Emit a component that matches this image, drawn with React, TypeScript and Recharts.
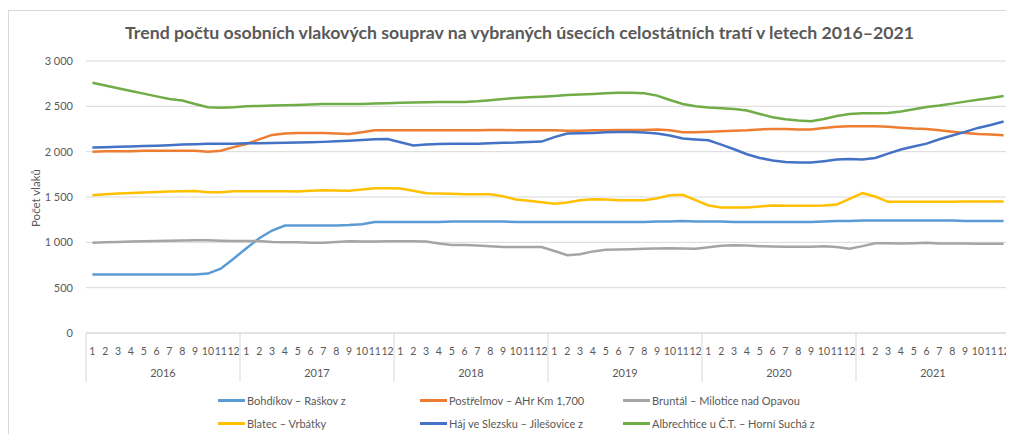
import { LineChart, Line, XAxis, YAxis, CartesianGrid } from 'recharts'

const years = ['2016', '2017', '2018', '2019', '2020', '2021']
const months = ['1', '2', '3', '4', '5', '6', '7', '8', '9', '10', '11', '12']
const yTicks = [0, 500, 1000, 1500, 2000, 2500, 3000]

const bohdikov = [
  645, 645, 645, 645, 645, 645, 645, 645, 645, 655, 710, 820,
  935, 1045, 1130, 1185, 1185, 1185, 1185, 1185, 1190, 1200, 1225, 1225,
  1225, 1225, 1225, 1225, 1230, 1230, 1230, 1230, 1230, 1225, 1225, 1225,
  1225, 1225, 1225, 1225, 1225, 1225, 1225, 1225, 1230, 1230, 1235, 1230,
  1230, 1230, 1225, 1225, 1225, 1225, 1225, 1225, 1225, 1230, 1235, 1235,
  1240, 1240, 1240, 1240, 1240, 1240, 1240, 1240, 1235, 1235, 1235, 1235,
]
const postrelmov = [
  2000, 2005, 2005, 2005, 2010, 2010, 2010, 2010, 2010, 2000, 2010, 2050,
  2085, 2135, 2185, 2200, 2205, 2205, 2205, 2200, 2195, 2215, 2235, 2235,
  2235, 2235, 2235, 2235, 2235, 2235, 2235, 2240, 2240, 2235, 2235, 2235,
  2235, 2230, 2230, 2235, 2235, 2240, 2240, 2240, 2245, 2235, 2215, 2215,
  2220, 2225, 2230, 2235, 2245, 2250, 2250, 2245, 2245, 2260, 2275, 2280,
  2280, 2280, 2275, 2265, 2255, 2250, 2235, 2220, 2205, 2195, 2190, 2180,
]
const bruntal = [
  995, 1000, 1005, 1008, 1012, 1015, 1018, 1020, 1022, 1022, 1018, 1015,
  1015, 1015, 1005, 1000, 1000, 995, 995, 1005, 1012, 1010, 1010, 1012,
  1012, 1012, 1008, 988, 970, 970, 966, 958, 948, 948, 948, 948,
  905, 858, 868, 900, 918, 922, 925, 928, 932, 935, 933, 930,
  945, 962, 968, 966, 958, 955, 952, 952, 952, 958, 948, 930,
  958, 990, 990, 988, 990, 995, 988, 988, 988, 985, 985, 985,
]
const blatec = [
  1520, 1530, 1538, 1545, 1550, 1555, 1560, 1563, 1567, 1553, 1553, 1563,
  1563, 1563, 1563, 1563, 1560, 1570, 1575, 1572, 1568, 1583, 1597, 1597,
  1594, 1568, 1542, 1538, 1535, 1531, 1531, 1531, 1509, 1472, 1458, 1443,
  1425, 1440, 1465, 1476, 1472, 1465, 1465, 1465, 1487, 1520, 1524, 1465,
  1406, 1385, 1385, 1385, 1395, 1405, 1403, 1403, 1403, 1406, 1417, 1480,
  1542, 1505, 1447, 1447, 1447, 1447, 1447, 1447, 1450, 1450, 1450, 1450,
]
const haj = [
  2045, 2050, 2055, 2058, 2062, 2066, 2072, 2078, 2083, 2086, 2086, 2088,
  2092, 2094, 2095, 2097, 2100, 2104, 2108, 2114, 2120, 2128, 2136, 2140,
  2104, 2068, 2078, 2085, 2087, 2087, 2088, 2093, 2097, 2100, 2107, 2111,
  2160, 2200, 2203, 2207, 2213, 2218, 2218, 2211, 2200, 2178, 2145, 2134,
  2126, 2078, 2027, 1972, 1931, 1902, 1887, 1880, 1880, 1895, 1913, 1918,
  1913, 1931, 1979, 2023, 2056, 2089, 2137, 2178, 2218, 2262, 2295, 2332,
]
const albrechtice = [
  2760, 2730, 2700, 2670, 2640, 2610, 2580, 2565, 2525, 2490, 2485, 2490,
  2500, 2505, 2508, 2512, 2515, 2520, 2525, 2525, 2525, 2525, 2530, 2535,
  2540, 2542, 2545, 2547, 2548, 2548, 2555, 2568, 2582, 2592, 2600, 2607,
  2614, 2624, 2630, 2636, 2645, 2650, 2650, 2643, 2618, 2570, 2526, 2500,
  2486, 2478, 2470, 2453, 2416, 2380, 2357, 2343, 2335, 2361, 2394, 2416,
  2423, 2423, 2427, 2442, 2468, 2493, 2508, 2530, 2552, 2572, 2592, 2614,
]

const series = [
  { key: 'bohdikov', name: 'Bohdíkov – Raškov z', color: '#5B9BD5', values: bohdikov },
  { key: 'postrelmov', name: 'Postřelmov – AHr Km 1,700', color: '#ED7D31', values: postrelmov },
  { key: 'bruntal', name: 'Bruntál – Milotice nad Opavou', color: '#A5A5A5', values: bruntal },
  { key: 'blatec', name: 'Blatec – Vrbátky', color: '#FFC000', values: blatec },
  { key: 'haj', name: 'Háj ve Slezsku – Jilešovice z', color: '#4472C4', values: haj },
  { key: 'albrechtice', name: 'Albrechtice u Č.T. – Horní Suchá z', color: '#70AD47', values: albrechtice },
]

const data = years.flatMap((y, yi) =>
  months.map((m, mi) => {
    const row: any = { key: `${y}-${m}` }
    series.forEach((s) => {
      row[s.key] = s.values[yi * 12 + mi]
    })
    return row
  })
)

const FONT = 'Lato, "Open Sans", sans-serif'
const TEXT = '#595959'
const GRID = '#d9d9d9'
const PLOT_W = 924
const HALF = PLOT_W / data.length / 2

const fmt = (v: number) => (v >= 1000 ? `${Math.floor(v / 1000)} ${String(v % 1000).padStart(3, '0')}` : String(v))

const MonthTick = (props: any) => {
  const { x, y, payload, index } = props
  const [year, month] = String(payload.value).split('-')
  return (
    <g>
      <text x={x} y={y + 22} textAnchor="middle" fontSize={10.5} fill={TEXT} fontFamily={FONT}>
        {month}
      </text>
      {month === '1' && <line x1={x - HALF} x2={x - HALF} y1={y} y2={y + 49} stroke={GRID} />}
      {index === data.length - 1 && <line x1={x + HALF} x2={x + HALF} y1={y} y2={y + 49} stroke={GRID} />}
      {month === '6' && (
        <text x={x + HALF} y={y + 44} textAnchor="middle" fontSize={11} fill={TEXT} fontFamily={FONT}>
          {year}
        </text>
      )}
    </g>
  )
}

export default function App() {
  return (
    <div style={{ position: 'relative', width: 1006, height: 426, fontFamily: FONT }}>
      <div style={{ position: 'absolute', left: 0, top: 2, width: 1020, height: 440, border: `1px solid ${GRID}`, boxSizing: 'border-box' }} />
      <div
        style={{ position: 'absolute', left: 0, width: 1023, top: 14, textAlign: 'center', fontSize: 17.7, lineHeight: '21px', fontWeight: 700, color: TEXT, whiteSpace: 'nowrap' }}
      >
        Trend počtu osobních vlakových souprav na vybraných úsecích celostátních tratí v letech 2016–2021
      </div>
      <div
        style={{ position: 'absolute', left: 27, top: 190, transform: 'translate(-50%, -50%) rotate(-90deg)', fontSize: 11.5, color: TEXT, whiteSpace: 'nowrap' }}
      >
        Počet vlaků
      </div>
      <div style={{ position: 'absolute', left: 0, top: 0 }}>
        <LineChart width={1006} height={426} data={data} margin={{ top: 53, right: 4, bottom: 51, left: 18 }}>
          <CartesianGrid vertical={false} stroke={GRID} />
          <XAxis
            dataKey="key"
            interval={0}
            height={50}
            padding={{ left: HALF, right: HALF }}
            axisLine={{ stroke: GRID }}
            tickLine={false}
            tickSize={0}
            tickMargin={0}
            tick={<MonthTick />}
          />
          <YAxis
            width={60}
            domain={[0, 3000]}
            ticks={yTicks}
            axisLine={false}
            tickLine={false}
            tickSize={0}
            tickMargin={13}
            tickFormatter={fmt}
            tick={{ fontSize: 11, fill: TEXT, fontFamily: FONT }}
          />
          {series.map((s) => (
            <Line
              key={s.key}
              type="linear"
              dataKey={s.key}
              name={s.name}
              stroke={s.color}
              strokeWidth={2.5}
              dot={false}
              isAnimationActive={false}
            />
          ))}
        </LineChart>
      </div>
      {series.map((s, i) => (
        <div
          key={s.key}
          style={{
            position: 'absolute',
            left: [210, 412, 615][i % 3],
            top: [392, 415][Math.floor(i / 3)] - 8,
            height: 16,
            display: 'flex',
            alignItems: 'center',
            fontSize: 11,
            color: TEXT,
            whiteSpace: 'nowrap',
          }}
        >
          <span style={{ display: 'inline-block', width: 27, height: 3, background: s.color, marginRight: 2 }} />
          <span>{s.name}</span>
        </div>
      ))}
    </div>
  )
}
